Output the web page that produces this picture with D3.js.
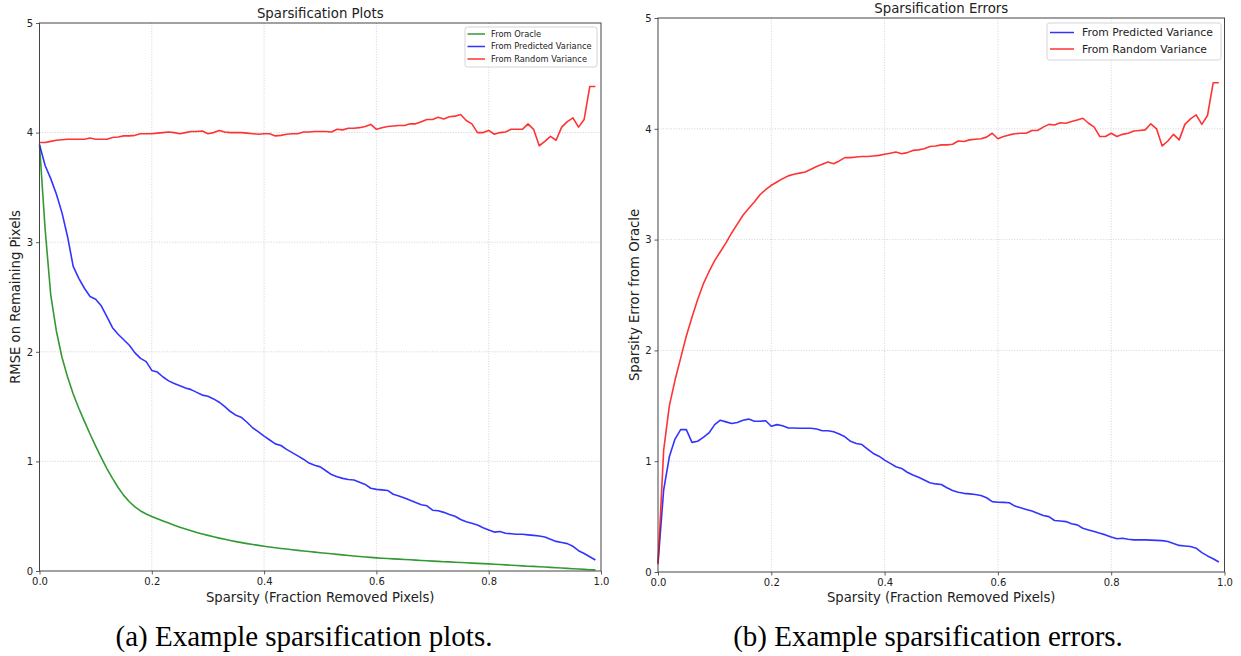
<!DOCTYPE html>
<html><head><meta charset="utf-8">
<script src="https://cdn.jsdelivr.net/npm/d3@7"></script>
<style>body{margin:0;background:#fff;} svg{display:block;font-family:"DejaVu Sans",sans-serif;}</style>
</head><body>
<svg id="chart" width="1241" height="656"></svg>
<script>
// ---- data ----
const sparsity = [0,0.01,0.02,0.03,0.04,0.05,0.06,0.07,0.08,0.09,0.10,0.11,0.12,0.13,0.14,0.15,0.16,0.17,0.18,0.19,
0.20,0.21,0.22,0.23,0.24,0.25,0.26,0.27,0.28,0.29,0.30,0.31,0.32,0.33,0.34,0.35,0.36,0.37,0.38,0.39,
0.40,0.41,0.42,0.43,0.44,0.45,0.46,0.47,0.48,0.49,0.50,0.51,0.52,0.53,0.54,0.55,0.56,0.57,0.58,0.59,
0.60,0.61,0.62,0.63,0.64,0.65,0.66,0.67,0.68,0.69,0.70,0.71,0.72,0.73,0.74,0.75,0.76,0.77,0.78,0.79,
0.80,0.81,0.82,0.83,0.84,0.85,0.86,0.87,0.88,0.89,0.90,0.91,0.92,0.93,0.94,0.95,0.96,0.97,0.98,0.99];

const oracleRMSE = [3.89,3.12,2.52,2.19,1.95,1.77,1.615,1.485,1.365,1.25,1.14,1.035,0.935,0.845,0.762,0.69,0.632,0.585,0.548,0.52,
0.497,0.476,0.456,0.437,0.418,0.40,0.383,0.367,0.352,0.338,0.325,0.312,0.300,0.289,0.278,0.268,0.259,0.250,0.242,0.234,
0.226,0.219,0.212,0.206,0.200,0.194,0.188,0.183,0.178,0.172,0.167,0.162,0.157,0.152,0.147,0.142,0.137,0.132,0.128,0.124,
0.120,0.117,0.114,0.111,0.108,0.105,0.102,0.099,0.096,0.093,0.090,0.088,0.085,0.083,0.080,0.078,0.075,0.072,0.070,0.067,
0.065,0.062,0.059,0.056,0.053,0.050,0.047,0.044,0.042,0.039,0.036,0.033,0.030,0.027,0.024,0.021,0.018,0.015,0.012,0.010];

const predictedRMSE = [3.89,3.70,3.58,3.44,3.27,3.05,2.78,2.67,2.58,2.505,2.48,2.42,2.32,2.22,2.16,2.11,2.06,1.99,1.94,1.91,
1.83,1.815,1.77,1.735,1.71,1.69,1.67,1.655,1.63,1.605,1.595,1.57,1.54,1.50,1.455,1.42,1.40,1.355,1.305,1.27,
1.23,1.195,1.16,1.145,1.11,1.08,1.05,1.02,0.985,0.965,0.95,0.915,0.88,0.86,0.845,0.835,0.83,0.81,0.79,0.755,
0.745,0.74,0.735,0.70,0.685,0.665,0.645,0.625,0.605,0.595,0.555,0.55,0.535,0.515,0.50,0.47,0.45,0.435,0.42,0.395,
0.375,0.355,0.36,0.345,0.34,0.335,0.335,0.33,0.325,0.32,0.31,0.29,0.27,0.26,0.25,0.225,0.185,0.16,0.13,0.10];

const randomRMSE = [3.91,3.91,3.92,3.93,3.935,3.94,3.94,3.94,3.94,3.95,3.94,3.94,3.94,3.955,3.96,3.97,3.97,3.975,3.99,3.99,
3.99,3.995,4.0,4.005,4.0,3.99,4.0,4.01,4.01,4.015,3.99,4.0,4.02,4.005,4.0,4.0,4.0,3.995,3.99,3.985,
3.99,3.99,3.97,3.975,3.985,3.99,3.99,4.005,4.005,4.01,4.01,4.01,4.005,4.03,4.025,4.04,4.04,4.045,4.055,4.075,
4.03,4.045,4.055,4.06,4.065,4.065,4.08,4.08,4.10,4.12,4.12,4.14,4.125,4.145,4.15,4.165,4.11,4.08,4.0,4.0,
4.02,3.985,4.0,4.005,4.03,4.03,4.03,4.08,4.03,3.88,3.92,3.965,3.93,4.05,4.10,4.135,4.05,4.12,4.42,4.42];

const predictedError = [0.08,0.74,1.04,1.20,1.285,1.285,1.17,1.18,1.215,1.255,1.33,1.37,1.355,1.34,1.35,1.37,1.38,1.36,1.36,1.365,
1.315,1.33,1.32,1.30,1.30,1.298,1.298,1.298,1.29,1.275,1.275,1.265,1.245,1.22,1.18,1.16,1.15,1.11,1.07,1.045,
1.01,0.98,0.95,0.935,0.90,0.875,0.855,0.83,0.805,0.795,0.79,0.76,0.735,0.72,0.71,0.705,0.70,0.69,0.67,0.635,
0.63,0.628,0.625,0.595,0.58,0.565,0.55,0.53,0.51,0.50,0.465,0.46,0.455,0.435,0.425,0.395,0.38,0.365,0.35,0.335,
0.315,0.30,0.305,0.295,0.29,0.29,0.29,0.288,0.285,0.283,0.275,0.258,0.24,0.235,0.23,0.215,0.175,0.145,0.12,0.09];

const randomError = [0.07,1.10,1.50,1.73,1.93,2.13,2.30,2.46,2.60,2.71,2.81,2.89,2.97,3.06,3.14,3.22,3.28,3.34,3.405,3.45,
3.49,3.52,3.55,3.575,3.59,3.60,3.61,3.635,3.66,3.68,3.70,3.685,3.71,3.74,3.74,3.745,3.75,3.75,3.755,3.76,
3.77,3.78,3.79,3.775,3.785,3.805,3.81,3.82,3.84,3.845,3.855,3.855,3.86,3.89,3.885,3.90,3.905,3.91,3.925,3.96,
3.91,3.93,3.945,3.955,3.96,3.96,3.985,3.985,4.015,4.04,4.035,4.055,4.05,4.065,4.08,4.095,4.05,4.015,3.93,3.93,
3.96,3.93,3.95,3.96,3.98,3.985,3.99,4.045,4.0,3.845,3.89,3.95,3.90,4.04,4.09,4.125,4.04,4.12,4.415,4.415];

const xTicks = [0, 0.2, 0.4, 0.6, 0.8, 1.0];
const yTicks = [0, 1, 2, 3, 4, 5];
const seriesNames = ["From Oracle", "From Predicted Variance", "From Random Variance"];
const seriesColors = ["#008000", "#0000ff", "#ff0000"];

// ---- drawing ----
const svg = d3.select("#chart");
svg.append("rect").attr("width",1241).attr("height",656).attr("fill","#fff");

function panel(cfg) {
  const x = d3.scaleLinear().domain([0,1]).range([cfg.left, cfg.right]);
  const y = d3.scaleLinear().domain([0,5]).range([cfg.bottom, cfg.top]);
  const g = svg.append("g");

  // grid
  g.append("g").selectAll("line").data(xTicks.slice(1,-1)).join("line")
    .attr("x1", d=>x(d)).attr("x2", d=>x(d)).attr("y1", cfg.top).attr("y2", cfg.bottom)
    .attr("stroke","#c8c8c8").attr("stroke-width",0.8).attr("stroke-dasharray","1,1.6");
  g.append("g").selectAll("line").data(yTicks.slice(1,-1)).join("line")
    .attr("y1", d=>y(d)).attr("y2", d=>y(d)).attr("x1", cfg.left).attr("x2", cfg.right)
    .attr("stroke","#c8c8c8").attr("stroke-width",0.8).attr("stroke-dasharray","1,1.6");

  // lines
  const line = d3.line().x((d,i)=>x(sparsity[i])).y(d=>y(d));
  cfg.series.forEach(s => {
    g.append("path").datum(s.values).attr("d", line)
      .attr("fill","none").attr("stroke", s.color).attr("stroke-opacity",0.8)
      .attr("stroke-width",1.6).attr("stroke-linejoin","round");
  });

  // axes
  const xAxis = d3.axisBottom(x).tickValues(xTicks).tickFormat(d3.format(".1f")).tickSize(3.5).tickPadding(3);
  const yAxis = d3.axisLeft(y).tickValues(yTicks).tickFormat(d3.format("d")).tickSize(3.5).tickPadding(3);
  const xa = g.append("g").attr("transform",`translate(0,${cfg.bottom})`).call(xAxis);
  const ya = g.append("g").attr("transform",`translate(${cfg.left},0)`).call(yAxis);
  [xa, ya].forEach(a => {
    a.select(".domain").remove();
    a.selectAll(".tick line").attr("stroke","#333").attr("stroke-width",0.8);
    a.selectAll(".tick text").attr("fill","#222").attr("font-size",10)
      .attr("font-family","DejaVu Sans, sans-serif");
  });
  // frame
  g.append("rect").attr("x",cfg.left).attr("y",cfg.top)
    .attr("width",cfg.right-cfg.left).attr("height",cfg.bottom-cfg.top)
    .attr("fill","none").attr("stroke","#444").attr("stroke-width",1);

  // title & labels
  g.append("text").attr("x",(cfg.left+cfg.right)/2).attr("y",cfg.titleY)
    .attr("text-anchor","middle").attr("font-size",13.3).attr("fill","#222").text(cfg.title);
  g.append("text").attr("x",(cfg.left+cfg.right)/2).attr("y",cfg.xlabelY)
    .attr("text-anchor","middle").attr("font-size",13.2).attr("fill","#222").text("Sparsity (Fraction Removed Pixels)");
  g.append("text").attr("transform",`translate(${cfg.ylabelX},${(cfg.top+cfg.bottom)/2}) rotate(-90)`)
    .attr("text-anchor","middle").attr("font-size",13.2).attr("fill","#222").text(cfg.ylabel);

  // legend
  const L = cfg.legend;
  const lg = g.append("g");
  lg.append("rect").attr("x",L.x).attr("y",L.y).attr("width",L.w).attr("height",L.h)
    .attr("rx",2.5).attr("fill","#fff").attr("fill-opacity",0.8)
    .attr("stroke","#d0d0d0").attr("stroke-width",0.9);
  cfg.series.forEach((s,i) => {
    const yy = L.rowY[i];
    lg.append("line").attr("x1",L.lx0).attr("x2",L.lx1).attr("y1",yy).attr("y2",yy)
      .attr("stroke",s.color).attr("stroke-opacity",0.8).attr("stroke-width",1.5);
    lg.append("text").attr("x",L.tx).attr("y",yy).attr("dy","0.35em")
      .attr("font-size",L.fs).attr("fill","#222").text(s.name);
  });

  // caption
  svg.append("text").attr("x",cfg.captionX).attr("y",646).attr("text-anchor","middle")
    .attr("font-family","Liberation Serif, Times New Roman, serif").attr("font-size",29)
    .attr("fill","#000").text(cfg.caption);
}

panel({
  left: 39.5, right: 601, top: 23, bottom: 571,
  title: "Sparsification Plots", titleY: 18,
  xlabelY: 602, ylabel: "RMSE on Remaining Pixels", ylabelX: 20,
  series: [
    {name: seriesNames[0], values: oracleRMSE, color: seriesColors[0]},
    {name: seriesNames[1], values: predictedRMSE, color: seriesColors[1]},
    {name: seriesNames[2], values: randomRMSE, color: seriesColors[2]}
  ],
  legend: {x:465, y:27, w:132, h:40, lx0:467.5, lx1:485, tx:491, rowY:[34,46.5,59], fs:8.3},
  caption: "(a) Example sparsification plots.", captionX: 304
});

panel({
  left: 658, right: 1224.5, top: 18, bottom: 572,
  title: "Sparsification Errors", titleY: 13,
  xlabelY: 602, ylabel: "Sparsity Error from Oracle", ylabelX: 639,
  series: [
    {name: seriesNames[1], values: predictedError, color: seriesColors[1]},
    {name: seriesNames[2], values: randomError, color: seriesColors[2]}
  ],
  legend: {x:1047, y:23, w:174, h:37, lx0:1050, lx1:1074, tx:1082, rowY:[32.5,49], fs:10.8},
  caption: "(b) Example sparsification errors.", captionX: 928
});
</script>
</body></html>
